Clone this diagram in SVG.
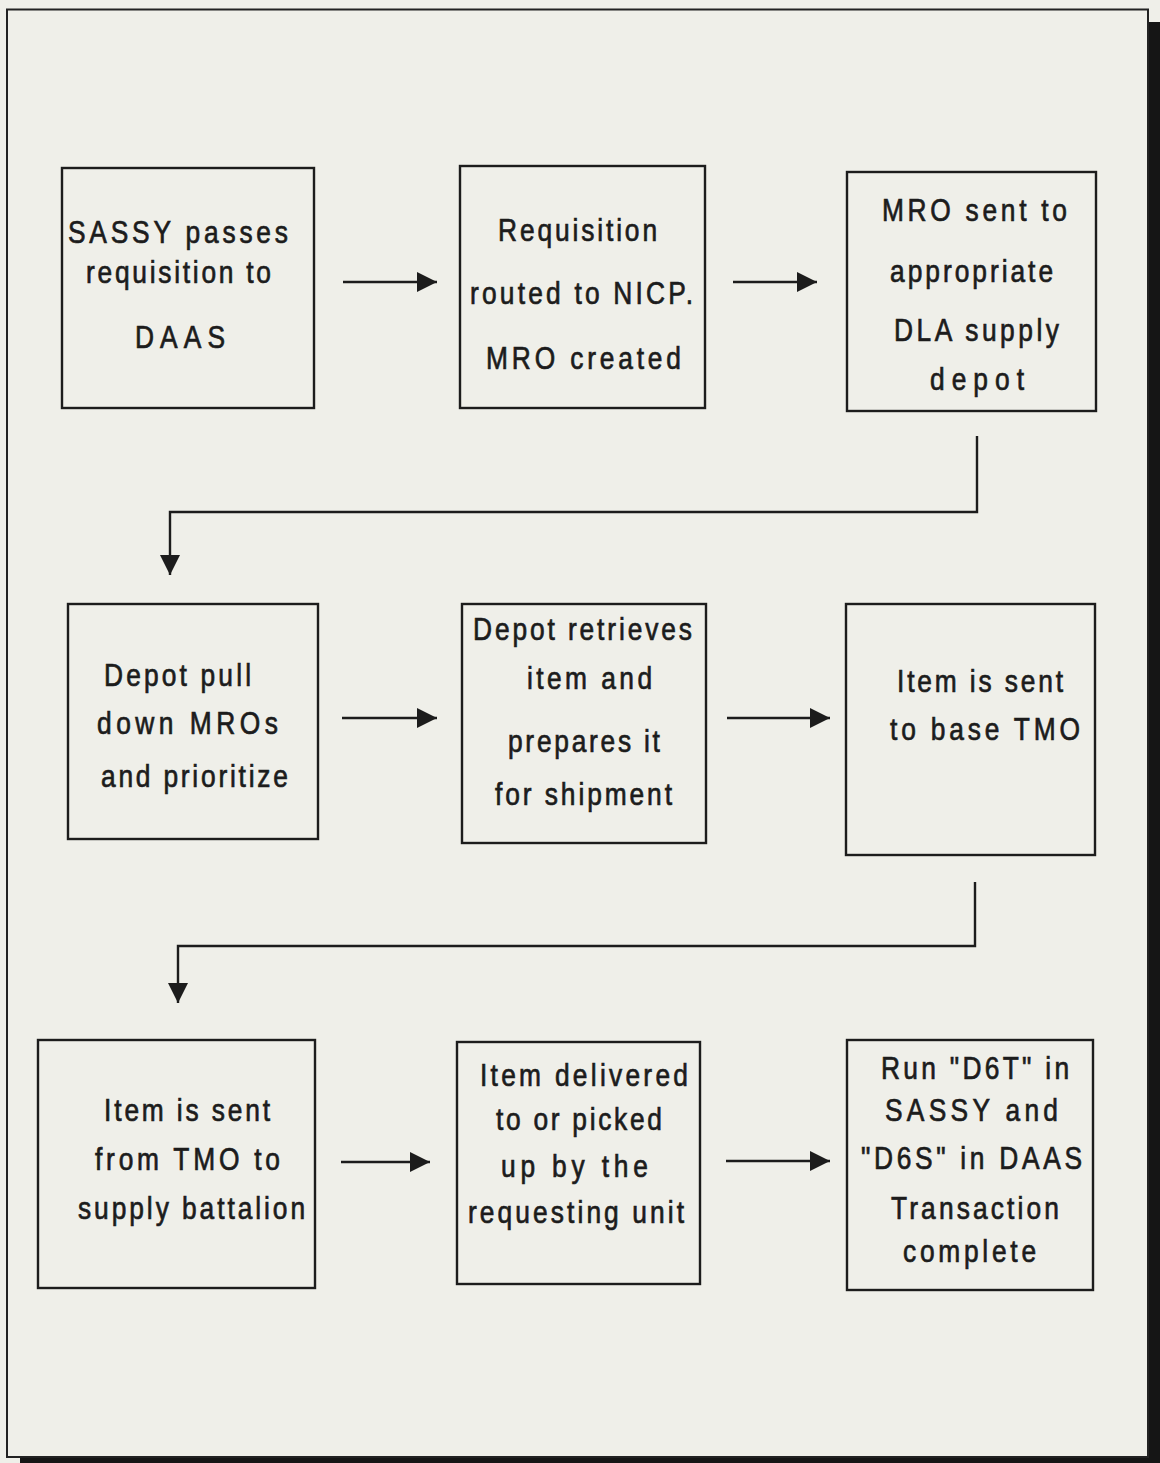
<svg xmlns="http://www.w3.org/2000/svg" width="1160" height="1463" viewBox="0 0 1160 1463">
<style>
.bg{fill:#efefe9}
.frame{fill:none;stroke:#222;stroke-width:2}
.shadow{fill:#151515}
.box{fill:none;stroke:#1c1c1c;stroke-width:2.4}
.conn{fill:none;stroke:#1c1c1c;stroke-width:2.4}
text{font-family:"Liberation Sans",Arial,sans-serif;font-size:31px;fill:#1c1c1c;stroke:#1c1c1c;stroke-width:0.7}
</style>
<defs>
<marker id="ah" markerUnits="userSpaceOnUse" markerWidth="21" markerHeight="21" refX="20" refY="10" orient="auto">
<path d="M0,0 L20,10 L0,20 z" fill="#1c1c1c"/>
</marker>
</defs>
<rect class="bg" x="0" y="0" width="1160" height="1463"/>
<rect class="shadow" x="1148" y="22" width="12" height="1441"/>
<rect class="shadow" x="20" y="1457" width="1140" height="6"/>
<rect class="frame" x="7" y="9.5" width="1141" height="1447.5"/>

<g id="connectors">
<line class="conn" x1="343" y1="282" x2="437" y2="282" marker-end="url(#ah)"/>
<line class="conn" x1="733" y1="282" x2="817" y2="282" marker-end="url(#ah)"/>
<polyline class="conn" points="977,436 977,512 170,512 170,575" marker-end="url(#ah)"/>
<line class="conn" x1="342" y1="718" x2="437" y2="718" marker-end="url(#ah)"/>
<line class="conn" x1="727" y1="718" x2="830" y2="718" marker-end="url(#ah)"/>
<polyline class="conn" points="975,882 975,946 178,946 178,1003" marker-end="url(#ah)"/>
<line class="conn" x1="341" y1="1162" x2="430" y2="1162" marker-end="url(#ah)"/>
<line class="conn" x1="726" y1="1161" x2="830" y2="1161" marker-end="url(#ah)"/>
</g>

<g id="n1">
<rect class="box" x="62" y="168" width="252" height="240"/>
<g transform="scale(0.85 1)">
<text x="80.0" y="243" textLength="258.8" lengthAdjust="spacing">SASSY passes</text>
<text x="101.2" y="283" textLength="217.6" lengthAdjust="spacing">requisition to</text>
<text x="158.8" y="348" textLength="105.9" lengthAdjust="spacing">DAAS</text>
</g>
</g>
<g id="n2">
<rect class="box" x="460" y="166" width="245" height="242"/>
<g transform="scale(0.85 1)">
<text x="585.9" y="241" textLength="187.1" lengthAdjust="spacing">Requisition</text>
<text x="552.9" y="304" textLength="262.4" lengthAdjust="spacing">routed to NICP.</text>
<text x="571.8" y="369" textLength="229.4" lengthAdjust="spacing">MRO created</text>
</g>
</g>
<g id="n3">
<rect class="box" x="847" y="172" width="249" height="239"/>
<g transform="scale(0.85 1)">
<text x="1037.6" y="221" textLength="217.6" lengthAdjust="spacing">MRO sent to</text>
<text x="1047.1" y="282" textLength="191.8" lengthAdjust="spacing">appropriate</text>
<text x="1051.8" y="341" textLength="194.1" lengthAdjust="spacing">DLA supply</text>
<text x="1094.1" y="390" textLength="110.6" lengthAdjust="spacing">depot</text>
</g>
</g>
<g id="n4">
<rect class="box" x="68" y="604" width="250" height="235"/>
<g transform="scale(0.85 1)">
<text x="122.4" y="686" textLength="172.9" lengthAdjust="spacing">Depot pull</text>
<text x="114.1" y="734" textLength="212.9" lengthAdjust="spacing">down MROs</text>
<text x="118.8" y="787" textLength="220.0" lengthAdjust="spacing">and prioritize</text>
</g>
</g>
<g id="n5">
<rect class="box" x="462" y="604" width="244" height="239"/>
<g transform="scale(0.85 1)">
<text x="556.5" y="640" textLength="257.6" lengthAdjust="spacing">Depot retrieves</text>
<text x="620.0" y="689" textLength="147.1" lengthAdjust="spacing">item and</text>
<text x="597.6" y="752" textLength="178.8" lengthAdjust="spacing">prepares it</text>
<text x="582.4" y="805" textLength="208.2" lengthAdjust="spacing">for shipment</text>
</g>
</g>
<g id="n6">
<rect class="box" x="846" y="604" width="249" height="251"/>
<g transform="scale(0.85 1)">
<text x="1055.3" y="692" textLength="195.3" lengthAdjust="spacing">Item is sent</text>
<text x="1047.1" y="740" textLength="223.5" lengthAdjust="spacing">to base TMO</text>
</g>
</g>
<g id="n7">
<rect class="box" x="38" y="1040" width="277" height="248"/>
<g transform="scale(0.85 1)">
<text x="122.4" y="1121" textLength="195.3" lengthAdjust="spacing">Item is sent</text>
<text x="111.8" y="1170" textLength="217.6" lengthAdjust="spacing">from TMO to</text>
<text x="91.8" y="1219" textLength="267.1" lengthAdjust="spacing">supply battalion</text>
</g>
</g>
<g id="n8">
<rect class="box" x="457" y="1042" width="243" height="242"/>
<g transform="scale(0.85 1)">
<text x="564.7" y="1086" textLength="244.7" lengthAdjust="spacing">Item delivered</text>
<text x="583.5" y="1130" textLength="195.3" lengthAdjust="spacing">to or picked</text>
<text x="589.4" y="1177" textLength="172.9" lengthAdjust="spacing">up by the</text>
<text x="550.6" y="1223" textLength="254.1" lengthAdjust="spacing">requesting unit</text>
</g>
</g>
<g id="n9">
<rect class="box" x="847" y="1040" width="246" height="250"/>
<g transform="scale(0.85 1)">
<text x="1036.5" y="1079" textLength="221.2" lengthAdjust="spacing">Run "D6T" in</text>
<text x="1041.2" y="1121" textLength="203.5" lengthAdjust="spacing">SASSY and</text>
<text x="1012.9" y="1169" textLength="260.0" lengthAdjust="spacing">"D6S" in DAAS</text>
<text x="1048.2" y="1219" textLength="197.6" lengthAdjust="spacing">Transaction</text>
<text x="1062.4" y="1262" textLength="156.5" lengthAdjust="spacing">complete</text>
</g>
</g>
</svg>
